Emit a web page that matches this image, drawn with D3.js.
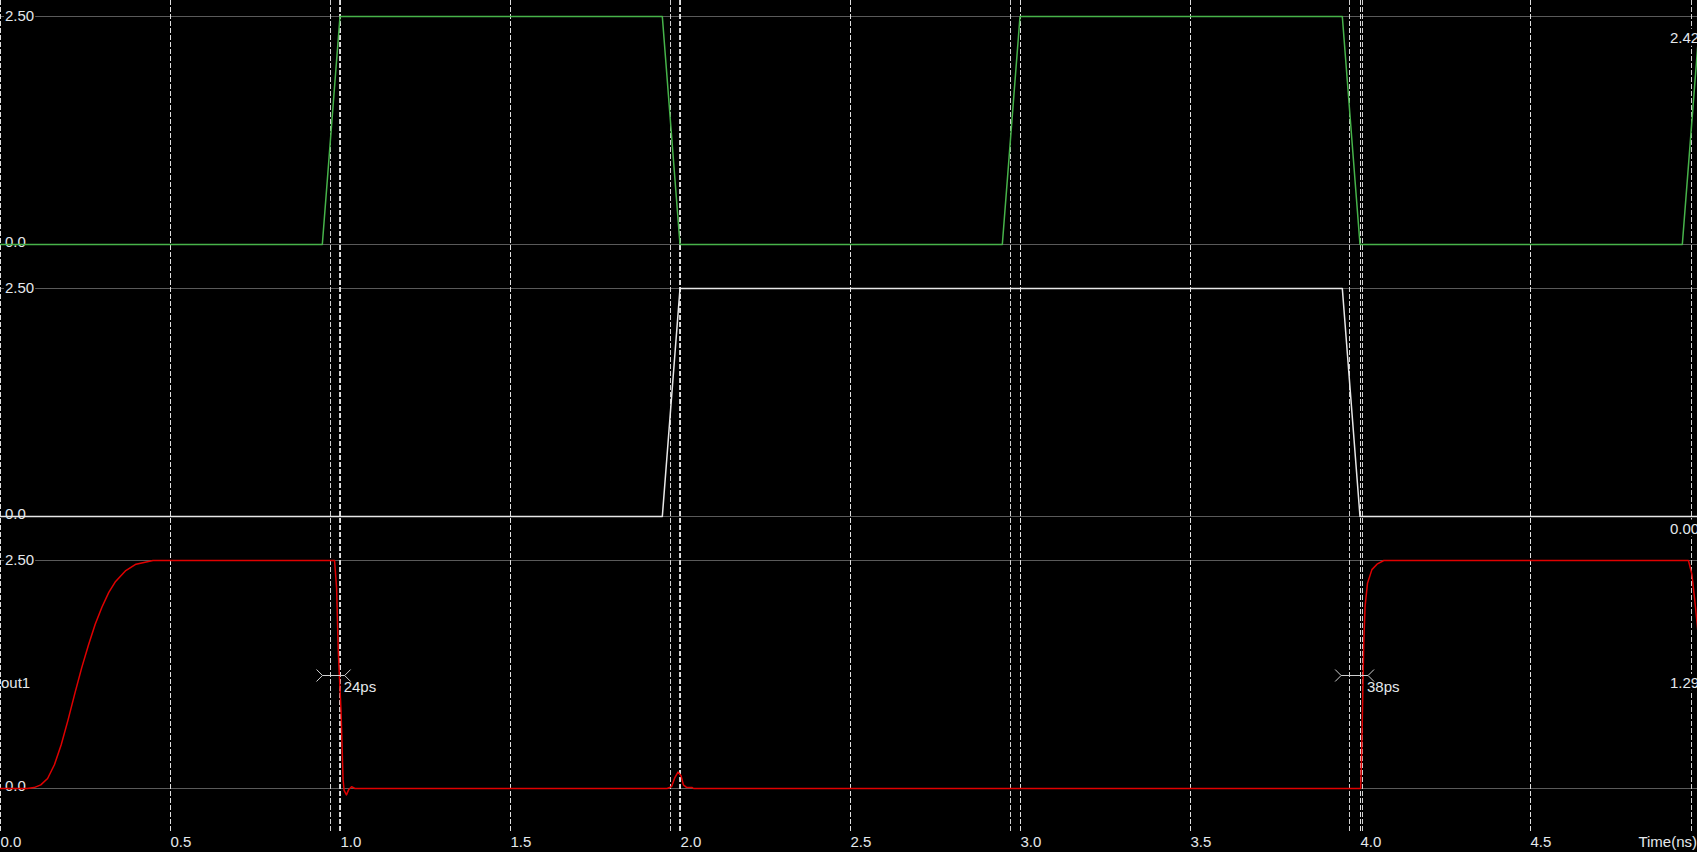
<!DOCTYPE html>
<html>
<head>
<meta charset="utf-8">
<script src="https://cdn.jsdelivr.net/npm/d3@7"></script>
<style>
  html, body { margin: 0; padding: 0; background: #000; overflow: hidden; }
  text { font-family: Arial, "Liberation Sans", sans-serif; font-size: 15px; fill: #e4e8ec; }
</style>
</head>
<body>
<div id="wave"></div>
<script>
// time axis (ns)
var timeTicks = [0, 0.5, 1.0, 1.5, 2.0, 2.5, 3.0, 3.5, 4.0, 4.5];
var cursorTimes = [0.972, 0.996, 1.971, 1.997, 2.971, 3.968, 4.006, 4.973];

// clk (green)
var clkT = [0, 0.948, 1.0, 1.948, 2.0, 2.948, 3.0, 3.948, 4.0, 4.948, 5.0];
var clkV = [0, 0, 2.5, 2.5, 0, 0, 2.5, 2.5, 0, 0, 2.5];

// d (white)
var dT = [0, 1.948, 2.0, 3.948, 4.0, 5.0];
var dV = [0, 0, 2.5, 2.5, 0, 0];

// out1 (red)
var outT = [0, 0.08, 0.10, 0.12, 0.14, 0.16, 0.18, 0.20, 0.22, 0.24, 0.26, 0.28, 0.30, 0.32, 0.34, 0.37, 0.40, 0.45,
            0.984, 0.990, 0.995, 1.003, 1.009, 1.012, 1.019, 1.026, 1.034, 1.044,
            1.962, 1.975, 1.985, 1.994, 2.003, 2.010, 2.020, 2.036, 2.040,
            4.002, 4.005, 4.008, 4.011, 4.015, 4.022, 4.035, 4.05, 4.07,
            4.966, 4.976, 4.985, 4.993, 5.0];
var outV = [0, 0, 0.01, 0.04, 0.11, 0.26, 0.48, 0.75, 1.04, 1.32, 1.57, 1.80, 1.99, 2.15, 2.27, 2.39, 2.46, 2.5,
            2.5, 2.2, 1.5, 0.85, 0.1, -0.02, -0.07, -0.01, 0.02, 0,
            0, 0.02, 0.12, 0.18, 0.14, 0.04, 0.01, 0.01, 0,
            0, 0.4, 1.0, 1.6, 2.0, 2.25, 2.4, 2.46, 2.5,
            2.5, 2.35, 2.05, 1.75, 1.5];

var measures = [
  {from: 0.972, to: 0.996, label: "24ps"},
  {from: 3.968, to: 4.006, label: "38ps"}
];

var readouts = [2.42, 0.00, 1.29];

//svg size
var width = 1697;
var height = 852;
var panelTop = [16.5, 288.5, 560.5];
var panelH = 228;

var svg = d3.select("#wave")
    .append("svg")
    .attr("width", width)
    .attr("height", height)
    .style("display", "block")
    .style("background", "#000");

var xScale = d3.scaleLinear()
    .domain([0, 5])
    .range([0, 1700]);

var yScales = panelTop.map(function(top) {
  return d3.scaleLinear().domain([0, 2.5]).range([top + panelH, top]);
});

function px(v) { return Math.round(v) + 0.5; }

// horizontal reference lines at 0 and 2.5
yScales.forEach(function(ys) {
  [0, 2.5].forEach(function(v) {
    svg.append("line")
        .attr("x1", 0).attr("x2", width)
        .attr("y1", ys(v)).attr("y2", ys(v))
        .attr("stroke", "#5a5a5a")
        .attr("stroke-width", 1);
  });
});

// dashed grid + cursor lines
var vLines = timeTicks.concat(cursorTimes);
svg.append("g").selectAll("line")
    .data(vLines)
    .enter()
    .append("line")
    .attr("x1", function(d) { return px(xScale(d)); })
    .attr("x2", function(d) { return px(xScale(d)); })
    .attr("y1", 0)
    .attr("y2", 832)
    .attr("stroke", function(d, i) { return i < timeTicks.length ? "#e0e0e0" : "#cfcfcf"; })
    .attr("stroke-width", 1)
    .attr("stroke-dasharray", "5,2");

// left value labels with black boxes
yScales.forEach(function(ys) {
  [{v: 2.5, t: "2.50", dy: 4}, {v: 0, t: "0.0", dy: 2}].forEach(function(l) {
    var g = svg.append("g");
    var txt = g.append("text")
        .attr("x", 5)
        .attr("y", ys(l.v) + l.dy)
        .text(l.t);
    var bb = txt.node().getBBox();
    if (l.v === 2.5) {
      g.insert("rect", "text")
          .attr("x", bb.x - 1).attr("y", ys(l.v) - 1)
          .attr("width", bb.width + 2).attr("height", 2)
          .attr("fill", "#000");
    }
  });
});

// signal label
svg.append("text")
    .attr("x", 1)
    .attr("y", 688)
    .text("out1");

// waveforms
function wave(ts, vs, ys, color) {
  var pts = ts.map(function(t, i) { return [t, vs[i]]; });
  var line = d3.line()
      .x(function(d) { return xScale(d[0]); })
      .y(function(d) { return ys(d[1]); });
  svg.append("path")
      .datum(pts)
      .attr("d", line)
      .attr("fill", "none")
      .attr("stroke", color)
      .attr("stroke-width", 1.5)
      .attr("stroke-linejoin", "round");
}
wave(clkT, clkV, yScales[0], "#47b34a");
wave(dT, dV, yScales[1], "#e8e8e8");
wave(outT, outV, yScales[2], "#e00000");

// delay measurement markers
var my = 675.5;
measures.forEach(function(m) {
  var xa = xScale(m.from) - 8;
  var xb = xScale(m.to) + 6;
  var g = svg.append("g").attr("stroke", "#cfcfcf").attr("stroke-width", 1);
  g.append("line").attr("x1", xa).attr("x2", xb).attr("y1", my).attr("y2", my);
  g.append("line").attr("x1", xa).attr("x2", xa - 6).attr("y1", my).attr("y2", my - 6);
  g.append("line").attr("x1", xa).attr("x2", xa - 6).attr("y1", my).attr("y2", my + 6);
  g.append("line").attr("x1", xb).attr("x2", xb + 6).attr("y1", my).attr("y2", my - 6);
  g.append("line").attr("x1", xb).attr("x2", xb + 6).attr("y1", my).attr("y2", my + 6);
  svg.append("text")
      .attr("x", xScale(m.to) + 5)
      .attr("y", 692)
      .text(m.label);
});

// cursor readouts on the right (clipped by the window edge, as in the tool)
readouts.forEach(function(v, i) {
  var y = yScales[i](v) + (i === 0 ? 19 : 17);
  var g = svg.append("g");
  var txt = g.append("text")
      .attr("x", 1670)
      .attr("y", y)
      .text(v.toFixed(2));
  var bb = txt.node().getBBox();
  g.insert("rect", "text")
      .attr("x", bb.x - 1).attr("y", bb.y)
      .attr("width", bb.width + 4).attr("height", bb.height)
      .attr("fill", "#000");
});

// time axis
var xAxis = d3.axisBottom(xScale)
    .tickValues(timeTicks)
    .tickSize(0)
    .tickFormat(d3.format(".1f"));

var axisG = svg.append("g")
    .attr("transform", "translate(0, 836)")
    .call(xAxis);
axisG.select(".domain").remove();
axisG.selectAll("text")
    .attr("text-anchor", "start")
    .attr("y", 11)
    .attr("dy", 0)
    .style("font-size", "15px")
    .style("font-family", "Arial, 'Liberation Sans', sans-serif")
    .style("fill", "#e4e8ec");

svg.append("text")
    .attr("x", 1697)
    .attr("y", 847)
    .attr("text-anchor", "end")
    .text("Time(ns)");
</script>
</body>
</html>
